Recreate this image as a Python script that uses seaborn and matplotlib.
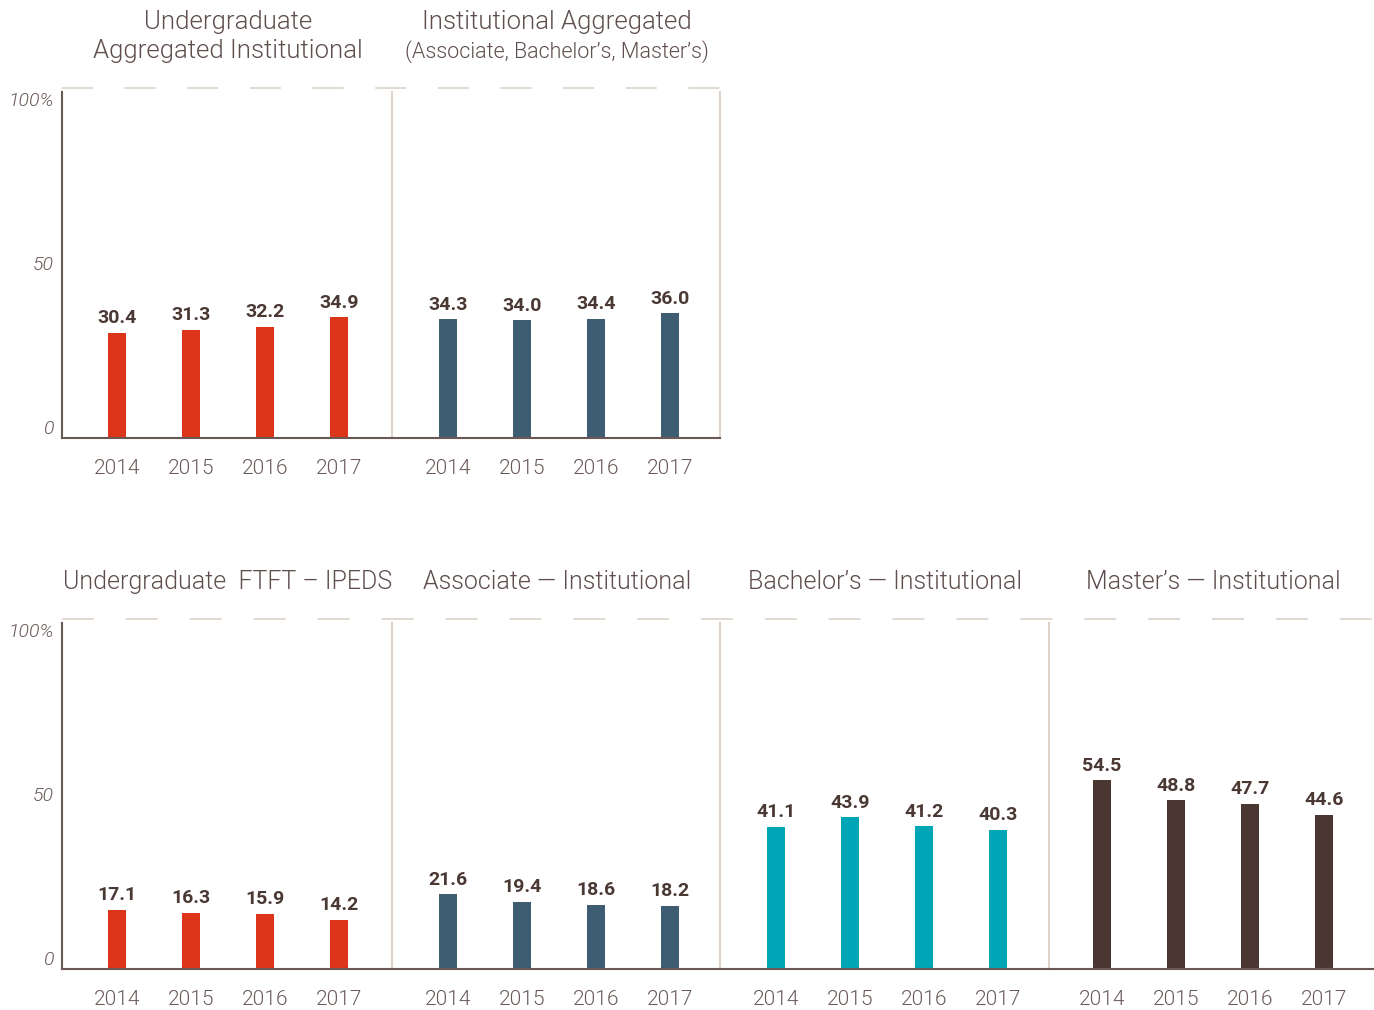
"""Completion rates by cohort - small-multiple bar panels, 2014-2017."""
import matplotlib

matplotlib.use("Agg")
import matplotlib.pyplot as plt
import pandas as pd
import seaborn as sns

years = ["2014", "2015", "2016", "2017"]
undergrad_agg = [30.4, 31.3, 32.2, 34.9]
inst_agg = [34.3, 34.0, 34.4, 36.0]
ftft_ipeds = [17.1, 16.3, 15.9, 14.2]
associate = [21.6, 19.4, 18.6, 18.2]
bachelors = [41.1, 43.9, 41.2, 40.3]
masters = [54.5, 48.8, 47.7, 44.6]

RED, SLATE, TEAL, BROWN = "#DD3519", "#3E5D72", "#00A6B6", "#4A3731"
TITLE_C = "#5E4E4C"
TICK_C = "#6A5A57"
VALUE_C = "#4A3833"
DARK_SPINE = "#6B5753"
BEIGE = "#DDD3C8"

sns.set_theme(style="white")
plt.rcParams["font.family"] = ["Roboto", "DejaVu Sans"]
plt.rcParams["font.weight"] = 300
plt.rcParams["lines.scale_dashes"] = False

W, H = 1374, 1010
fig = plt.figure(figsize=(W / 100, H / 100), dpi=100)
PANEL_H = 346
STEP = 74  # px between bar centres


def add_panel(left, zero_y, width):
    return fig.add_axes([left / W, (H - zero_y) / H, width / W, PANEL_H / H])


def draw_panel(ax, values, color, width, offset, first=False, right_border=False):
    df = pd.DataFrame({"year": years, "value": values})
    sns.barplot(data=df, x="year", y="value", color=color, width=0.23,
                saturation=1, linewidth=0, ax=ax)
    ax.bar_label(ax.containers[0], fmt="%.1f", padding=4, fontsize=14,
                 fontweight="bold", color=VALUE_C)
    lo = -offset / STEP
    ax.set_xlim(lo, lo + width / STEP)
    ax.set_ylim(0, 100)
    ax.set_xlabel("")
    ax.set_ylabel("")
    ax.tick_params(axis="x", length=0, pad=15, labelsize=15, labelcolor=TICK_C)
    for lab in ax.get_xticklabels():
        lab.set_fontweight(300)
    if first:
        ax.set_yticks([0, 50, 100])
        ax.set_yticklabels(["0", "50", "100%"], fontsize=14, style="italic",
                           color=TICK_C, fontweight=300)
        for lab, va in zip(ax.get_yticklabels(), ["bottom", "center", "top"]):
            lab.set_verticalalignment(va)
        ax.tick_params(axis="y", length=0, pad=6)
    else:
        ax.set_yticks([])
    for side in ["top", "right"]:
        ax.spines[side].set_visible(False)
    ax.spines["left"].set_color(DARK_SPINE if first else BEIGE)
    ax.spines["left"].set_linewidth(1.5)
    ax.spines["bottom"].set_color(DARK_SPINE)
    ax.spines["bottom"].set_linewidth(1.5)
    if right_border:
        ax.spines["right"].set_visible(True)
        ax.spines["right"].set_color(BEIGE)
        ax.spines["right"].set_linewidth(1.5)


def title(x, y, s, size=18.5):
    fig.text(x / W, 1 - y / H, s, ha="center", va="center", fontsize=size,
             color=TITLE_C, fontweight=300)


# top row
top_a = add_panel(62, 438, 330)
top_b = add_panel(392, 438, 328)
draw_panel(top_a, undergrad_agg, RED, 330, 55, first=True)
draw_panel(top_b, inst_agg, SLATE, 328, 56, right_border=True)
top_a.axhline(101.2, xmin=0, xmax=658 / 330, color=BEIGE, lw=1.2,
              ls=(0, (22.3, 22.8)), clip_on=False)

# bottom row
lefts = [62, 392, 720, 1049]
widths = [330, 328, 329, 325]
offsets = [55, 56, 56, 53]
series = [ftft_ipeds, associate, bachelors, masters]
colors = [RED, SLATE, TEAL, BROWN]
bottom_axes = []
for i in range(4):
    ax = add_panel(lefts[i], 969, widths[i])
    draw_panel(ax, series[i], colors[i], widths[i], offsets[i], first=(i == 0))
    bottom_axes.append(ax)
bottom_axes[0].axhline(101.2, xmin=0, xmax=1312 / 330, color=BEIGE, lw=1.2,
                       ls=(0, (23, 23)), clip_on=False)

# panel titles
title(228, 22, "Undergraduate")
title(228, 51, "Aggregated Institutional")
title(557, 22, "Institutional Aggregated")
title(557, 52, "(Associate, Bachelor\u2019s, Master\u2019s)", size=15.5)
title(228, 582, "Undergraduate  FTFT \u2013 IPEDS", size=18)
title(557, 582, "Associate \u2014 Institutional", size=18)
title(885, 582, "Bachelor\u2019s \u2014 Institutional", size=18)
title(1213, 582, "Master\u2019s \u2014 Institutional", size=18)

fig.savefig("out.png", dpi=100)
